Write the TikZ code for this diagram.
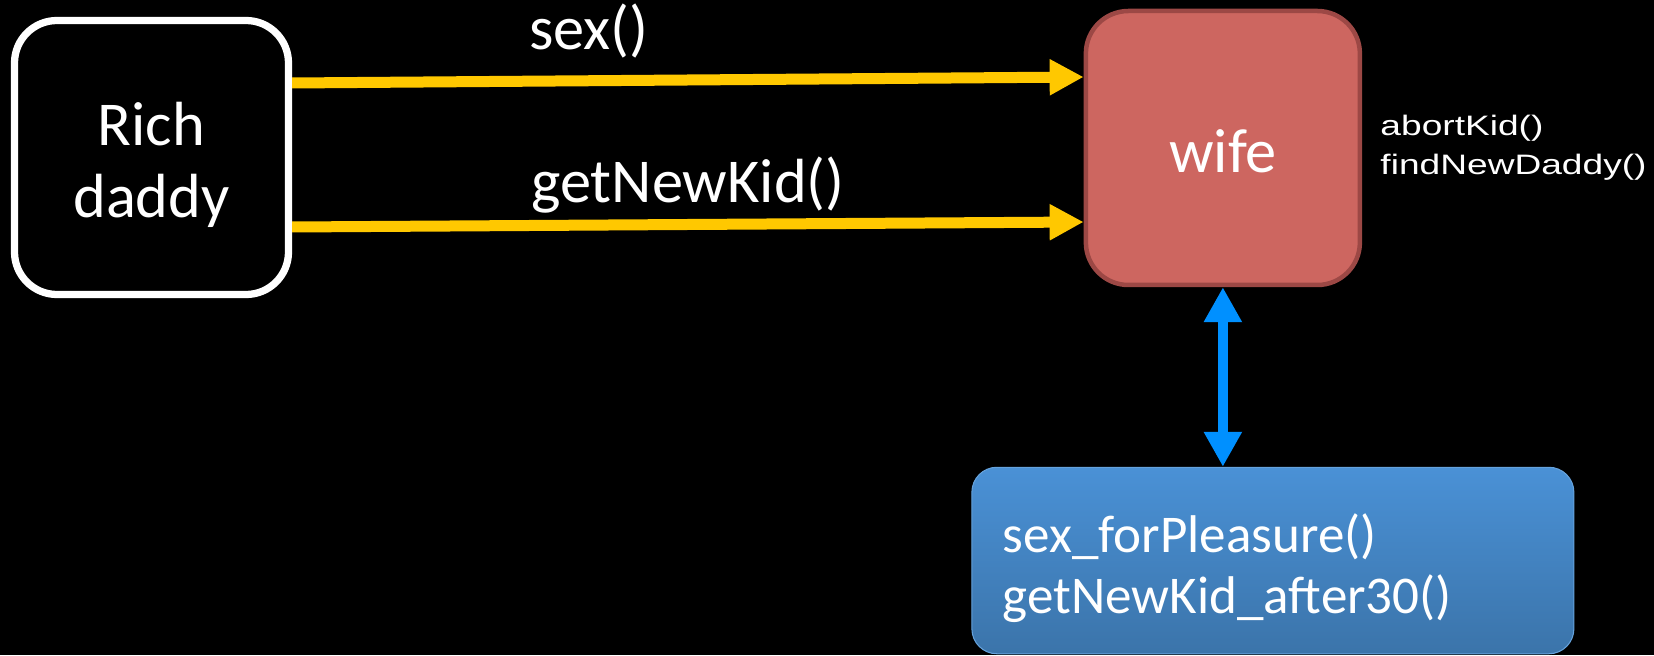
\documentclass[tikz,border=0pt]{standalone}
\usepackage{fontspec}
\setmainfont{Carlito}
\newfontfamily\methodfont[FakeStretch=1.32]{Liberation Sans}
\usetikzlibrary{arrows.meta, positioning}

\definecolor{callyellow}{HTML}{FFC800}
\definecolor{wifefill}{HTML}{CD6660}
\definecolor{wifeedge}{HTML}{9C4845}
\definecolor{linkblue}{HTML}{0090FF}
\definecolor{hobbytop}{HTML}{4A91D6}
\definecolor{hobbybottom}{HTML}{3B74AA}

\begin{document}
\begin{tikzpicture}[
        actor/.style = {
            rectangle,
            rounded corners=0.85cm,
            text=white,
            align=center,
            inner sep=0pt,
            minimum width=5.48cm,
            minimum height=5.48cm,
            font=\fontsize{35.5}{41}\selectfont
        },
        hobby/.style = {
            rectangle,
            rounded corners=0.5cm,
            draw=hobbytop!85!white,
            line width=0.6pt,
            top color=hobbytop,
            bottom color=hobbybottom,
            text=white,
            text width=10.8cm,
            align=left,
            inner xsep=0.62cm,
            inner ysep=0pt,
            text height=1.71cm,
            text depth=2.02cm,
            font=\fontsize{30.2}{34.7}\selectfont
        },
        call_arrow/.style = {
            draw=callyellow,
            line width=0.22cm,
            -{Triangle[length=0.68cm, width=0.68cm]}
        },
        call_label/.style = {
            anchor=base,
            text=white,
            inner sep=0pt,
            font=\fontsize{35.5}{41}\selectfont
        }
    ]

    \path[use as bounding box, fill=black] (0,0) rectangle (33.08,13.1);

    \node (daddy) [actor, draw=white, line width=0.145cm, text height=3.95cm, text depth=1.53cm] at (3.03,9.95) {Rich\\daddy};
    \node (wife) [actor, draw=wifeedge, fill=wifefill, line width=0.09cm, text height=3.24cm, text depth=2.24cm,
        right=15.83cm of daddy, yshift=0.19cm] {wife};
    \node (wife_methods) [right=0.36cm of wife, anchor=west, inner sep=0pt, text=white, align=left,
        font=\methodfont\fontsize{16}{22.2}\selectfont] {abortKid()\\findNewDaddy()};
    \node (hobbies) [hobby, below=3.59cm of wife, xshift=1cm] {sex\_forPleasure()\\getNewKid\_after30()};

    \draw[call_arrow] ([yshift=1.49cm]daddy.east) -- ([yshift=1.42cm]wife.west)
        node[call_label, pos=0.375, yshift=0.615cm] (sex_label) {sex()};
    \draw[call_arrow] ([yshift=-1.39cm]daddy.east) -- ([yshift=-1.48cm]wife.west)
        node[call_label, pos=0.5, yshift=0.43cm] (kid_label) {getNewKid()};

    \draw[linkblue, line width=0.21cm, {Triangle[length=0.7cm, width=0.72cm]}-{Triangle[length=0.7cm, width=0.72cm]}]
        (wife.south) -- (wife.south |- hobbies.north);

\end{tikzpicture}
\end{document}
